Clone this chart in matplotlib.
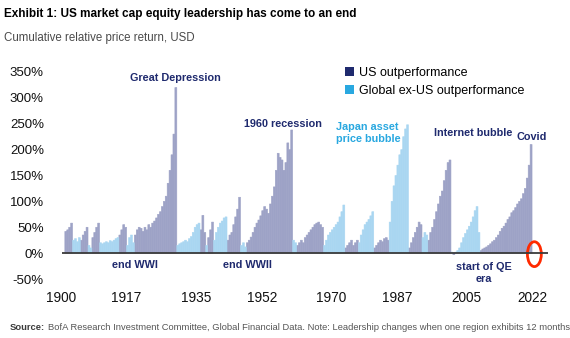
import numpy as np
import matplotlib
matplotlib.use("Agg")
import matplotlib.pyplot as plt
from matplotlib.patches import Ellipse, Patch

# ---------------- data (half-year bins) ----------------
periods = np.arange(1900, 2022, 0.5)

rel_return = (
    # 1900s
    [0, 0, 42, 45, 50, 58, 25, 28, 22, 30, 25, 35, 42, 50, 15, 10, 30, 40, 50, 58]
    # 1910s
    + [20, 18, 20, 22, 20, 24, 22, 25, 28, 30, 35, 45, 55, 50, 15, 30, 35, 20, 35, 45]
    # 1920s
    + [50, 48, 42, 50, 45, 55, 50, 58, 62, 68, 75, 80, 90, 100, 110, 135, 160, 190, 230, 320]
    # 1930s
    + [15, 18, 20, 22, 25, 22, 28, 32, 40, 50, 55, 58, 45, 73, 40, 15, 30, 45, 60, 25]
    # 1940s
    + [40, 50, 58, 62, 68, 70, 25, 35, 40, 55, 70, 85, 108, 15, 20, 12, 20, 25, 31, 40]
    # 1950s
    + [50, 58, 64, 72, 82, 90, 85, 77, 95, 110, 128, 160, 193, 185, 180, 160, 175, 213, 200, 238]
    # 1960s
    + [25, 20, 15, 20, 25, 20, 30, 35, 40, 45, 50, 55, 58, 60, 55, 50, 15, 25, 35, 40]
    # 1970s
    + [45, 50, 55, 60, 70, 80, 93, 10, 15, 20, 25, 15, 20, 25, 20, 35, 45, 55, 60, 65]
    # 1980s
    + [72, 80, 10, 15, 20, 25, 22, 28, 30, 25, 60, 100, 130, 150, 170, 190, 200, 225, 240, 248]
    # 1990s
    + [10, 20, 30, 40, 50, 60, 55, 30, 40, 35, 25, 40, 50, 65, 80, 95, 110, 120, 140, 160]
    # 2000s
    + [175, 180, 2, -3, 2, 5, 10, 20, 30, 38, 45, 52, 60, 70, 82, 90, 40, 5, 8, 10]
    # 2010s
    + [12, 15, 18, 22, 25, 30, 35, 42, 48, 52, 58, 65, 70, 78, 82, 88, 95, 100, 105, 115]
    # 2020s
    + [125, 145, 170, 210]
)

leader = (
    "--UUUUGGGGUUUUGGUUUU"
    "GGGGGGGGGGUUUUGGGGUU"
    "UUUUUUUUUUUUUUUUUUUU"
    "GGGGGGGGGGGGUUUGUUUG"
    "GGGGGGUUUUUUUGGGUUUU"
    "UUUUUUUUUUUUUUUUUUUU"
    "GGUUUUUUUUUUUUUUGGGG"
    "GGGGGGGUUUUUUUGGGGGG"
    "GGUUUUUUUUGGGGGGGGGG"
    "UUUUUUUGGGUUUUUUUUUU"
    "UUGUGGGGGGGGGGGGGUUU"
    "UUUUUUUUUUUUUUUUUUUU"
    "UUUU"
)

y_ticks = [-50, 0, 50, 100, 150, 200, 250, 300, 350]
x_ticks = [1900, 1917, 1935, 1952, 1970, 1987, 2005, 2022]

legend_labels = ["US outperformance", "Global ex-US outperformance"]

# ---------------- styling ----------------
NAVY = "#1F2A6E"
BRIGHT = "#29A8E0"
US_BAR = "#9DA2C6"
GL_BAR = "#A9D6F1"

SANS = "Liberation Sans"
plt.rcParams["font.family"] = [SANS, "DejaVu Sans"]

W, H = 570, 338
fig = plt.figure(figsize=(W / 100, H / 100), dpi=100)
ax = fig.add_axes([55 / W, 1 - 279 / H, 495 / W, 207 / H])

vals = np.array(rel_return, dtype=float)
lead = np.array(list(leader))
n = min(len(periods), len(vals), len(lead))
per, vals, lead = periods[:n], vals[:n], lead[:n]

us = lead == "U"
gl = lead == "G"
ax.bar(per[us], vals[us], width=0.5, align="edge", color=US_BAR,
       edgecolor=US_BAR, linewidth=0.4, snap=False)
ax.bar(per[gl], vals[gl], width=0.5, align="edge", color=GL_BAR,
       edgecolor=GL_BAR, linewidth=0.4, snap=False)

ax.plot([1900.2, 2026.1], [0, 0], color="#3a3a3a", lw=1.3, solid_capstyle="butt")

ax.set_xlim(1898.45, 2026.65)
ax.set_ylim(-50, 350)
for s in ax.spines.values():
    s.set_visible(False)

ax.set_yticks(y_ticks)
ax.set_yticklabels([f"{v}%" for v in y_ticks], fontsize=9.5)
ax.set_xticks(x_ticks)
ax.set_xticklabels([str(v) for v in x_ticks], fontsize=9.8)
ax.tick_params(axis="both", length=0, colors="#111111")
ax.tick_params(axis="y", pad=8)
ax.tick_params(axis="x", pad=9)

# annotations
ann = dict(color=NAVY, fontweight="bold", fontsize=7.8, ha="center", va="center")
ax.text(1929.5, 338, "Great Depression", **ann)
ax.text(1957.5, 249, "1960 recession", **ann)
ax.text(2006.7, 232, "Internet bubble", **ann)
ax.text(2021.9, 224, "Covid", **ann)
ax.text(1919.2, -23, "end WWI", **ann)
ax.text(1948.2, -23, "end WWII", **ann)
ax.text(2009.6, -38, "start of QE\nera", linespacing=1.2, **ann)
ax.text(1971.3, 232, "Japan asset\nprice bubble", color=BRIGHT, fontweight="bold",
        fontsize=7.8, ha="left", va="center", linespacing=1.2)

ax.add_patch(Ellipse((2022.6, -2), width=3.6, height=48, fill=False,
                     edgecolor="#FF2A00", lw=2.0, clip_on=False))

handles = [Patch(facecolor=NAVY, edgecolor="none"), Patch(facecolor=BRIGHT, edgecolor="none")]
fig.legend(handles, legend_labels, loc="upper left", bbox_to_anchor=(345 / W, 1 - 67 / H),
           frameon=False, handlelength=0.75, handleheight=0.75, handletextpad=0.35,
           labelspacing=0.45, borderpad=0, borderaxespad=0,
           prop={"size": 9})

# titles
renderer = fig.canvas.get_renderer()


def fit(t, target):
    w = t.get_window_extent(renderer).width
    if w > 0:
        t.set_fontsize(t.get_fontsize() * target / w)


title = fig.text(4 / W, 1 - 14 / H, "Exhibit 1: US market cap equity leadership has come to an end",
                 fontweight="bold", fontsize=11, va="center", ha="left")
fit(title, 351)
sub = fig.text(4 / W, 1 - 38 / H, "Cumulative relative price return, USD",
               fontsize=10, color="#4a4a4a", va="center", ha="left")
fit(sub, 191)

src1 = fig.text(10 / W, 1 - 328 / H, "Source:", fontweight="bold",
                fontsize=7.5, color="#3a3a3a", va="center", ha="left")
src2 = ax.annotate("BofA Research Investment Committee, Global Financial Data. Note: Leadership changes when one region exhibits 12 months",
                   xy=(1, 0.5), xycoords=src1, xytext=(2, 0), textcoords="offset points",
                   fontsize=7.5, color="#555555", va="center", ha="left",
                   annotation_clip=False)
fig.canvas.draw()
w_tot = src1.get_window_extent(renderer).width + src2.get_window_extent(renderer).width + 3
scale = 556 / w_tot
src1.set_fontsize(7.5 * scale)
src2.set_fontsize(7.5 * scale)

fig.savefig("out.png", dpi=100)
